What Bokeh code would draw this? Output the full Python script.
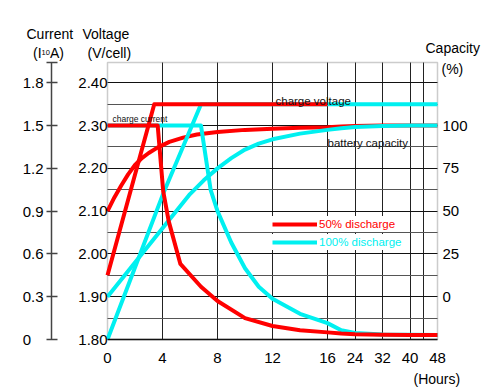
from bokeh.plotting import figure
from bokeh.models import (Range1d, LinearAxis, FixedTicker, Grid, Label, Legend,
                          LegendItem, NumeralTickFormatter, BoxAnnotation)
from bokeh.embed import file_html
from bokeh.resources import INLINE

# ---------------- data ----------------
x_tick_hours = [0, 4, 8, 12, 16, 24, 32, 40, 48]
x_tick_labels = ["0", "4", "8", "12", "16", "24", "32", "40", "48"]
x_grid_hours = [4, 8, 12, 16, 24, 32, 40, 44]
volt_ticks = [1.80, 1.90, 2.00, 2.10, 2.20, 2.30, 2.40]
volt_grid_major = [1.90, 2.00, 2.10, 2.20, 2.30, 2.40]
volt_grid_minor = [1.85, 1.95, 2.05, 2.15, 2.25, 2.35]
current_ticks = [0, 0.3, 0.6, 0.9, 1.2, 1.5, 1.8]
current_labels = ["0\u2007\u2008", "0.3", "0.6", "0.9", "1.2", "1.5", "1.8"]
capacity_ticks = [0, 25, 50, 75, 100]

# 50% discharge (red)
red_volt_h = [0, 3.4, 16]
red_volt_v = [1.95, 2.35, 2.35]
red_curr_h = [0, 3.65, 4.05, 4.45, 5.3, 6.8, 8, 10, 12, 14, 16, 20, 24, 32, 40, 48]
red_curr_i = [1.5, 1.5, 1.04, 0.83, 0.53, 0.37, 0.27, 0.15, 0.095, 0.065, 0.05,
              0.042, 0.037, 0.033, 0.032, 0.032]
red_cap_h = [0, 0.5, 1, 1.5, 2, 2.5, 3, 3.6, 4.5, 5.5, 6.5, 8, 10, 12, 14, 16, 20, 24, 32, 48]
red_cap_c = [50, 58, 65, 71.5, 77, 81, 84, 87, 90.5, 93, 94.8, 96.3, 97.5, 98.2, 98.7,
             99.1, 99.5, 99.8, 100, 100]

# 100% discharge (cyan)
cyan_volt_h = [0, 4.1, 6.8, 48]
cyan_volt_v = [1.80, 2.145, 2.35, 2.35]
cyan_curr_h = [0, 6.8, 7.5, 8, 9, 10, 11, 12, 14, 16, 20, 24, 32, 40, 48]
cyan_curr_i = [1.5, 1.5, 1.05, 0.9, 0.68, 0.5, 0.37, 0.285, 0.18, 0.115, 0.065,
               0.045, 0.035, 0.033, 0.032]
cyan_cap_h = [0, 2, 4, 6, 7, 8, 9, 10, 11, 12, 14, 16, 20, 24, 32, 40, 48]
cyan_cap_c = [0, 20, 40, 60, 68, 75, 81, 86, 89.5, 92, 95.3, 97.5, 98.5, 99.2, 99.7, 100, 100]

RED = "#ff0000"
CYAN = "#00f0f0"
FONT = "Liberation Sans"

W, H = 489, 387
V_BOT, V_TOP = 1.80, 2.4475
H_MAX = 24.0                      # axis position of 48 h

# plot box in page pixels
X0, X1 = 107.0, 437.0
Y0, Y1 = 339.0, 62.0
XS = (X1 - X0) / H_MAX
YS = (Y0 - Y1) / (V_TOP - V_BOT)


def pos(h):
    """Hour axis: 0-16 h linear, 16-48 h compressed four times."""
    return h if h <= 16 else 16 + (h - 16) / 4.0


def dx(px):
    return (px - X0) / XS


def dy(py):
    return V_BOT + (Y0 - py) / YS


def to_cur(v):
    return (v - V_BOT) * 3.0


def to_cap(v):
    return (v - 1.90) * 250.0


p = figure(width=W, height=H, x_range=Range1d(dx(0), dx(W)), y_range=Range1d(dy(H), dy(0)),
           output_backend="svg", toolbar_location=None,
           min_border_left=0, min_border_right=0, min_border_top=0, min_border_bottom=0)
p.background_fill_color = "white"
p.border_fill_color = "white"
p.outline_line_color = None

p.extra_y_ranges = {
    "cur": Range1d(to_cur(dy(H)), to_cur(dy(0))),
    "cap": Range1d(to_cap(dy(H)), to_cap(dy(0))),
}

# ---- bottom axis
xa = p.xaxis[0]
xa.fixed_location = V_BOT
xa.bounds = (0, H_MAX)
xa.ticker = FixedTicker(ticks=[pos(h) for h in x_tick_hours])
xa.major_label_overrides = {pos(h): lab for h, lab in zip(x_tick_hours, x_tick_labels)}
xa.axis_line_color = "#111111"
xa.axis_line_width = 1.5
xa.major_tick_line_color = None
xa.minor_tick_line_color = None
xa.major_tick_in = 0
xa.major_tick_out = 0
xa.major_label_standoff = 13
xa.major_label_text_font = FONT
xa.major_label_text_font_size = "15px"
xa.major_label_text_color = "black"

# ---- voltage axis
va = p.yaxis[0]
va.fixed_location = 0
va.bounds = (V_BOT, V_TOP)
va.ticker = FixedTicker(ticks=volt_ticks)
va.formatter = NumeralTickFormatter(format="0.00")
va.axis_line_color = None
va.major_tick_line_color = None
va.minor_tick_line_color = None
va.major_tick_in = 0
va.major_tick_out = 0
va.major_label_standoff = 0
va.major_label_text_font = FONT
va.major_label_text_font_size = "15px"
va.major_label_text_color = "black"

# ---- current axis
cur_top = to_cur(V_TOP)
overrides = {t: lab for t, lab in zip(current_ticks, current_labels)}
overrides[cur_top] = ""
ca = LinearAxis(y_range_name="cur", fixed_location=dx(51), bounds=(0, cur_top),
                ticker=FixedTicker(ticks=current_ticks + [cur_top]),
                major_label_overrides=overrides,
                axis_line_color="#444444", axis_line_width=1.5,
                major_tick_line_color="#444444", major_tick_line_width=1.5,
                major_tick_in=6, major_tick_out=5, minor_tick_line_color=None,
                major_label_standoff=3, major_label_text_font=FONT,
                major_label_text_font_size="15px", major_label_text_color="black")
p.add_layout(ca, "left")

# ---- capacity axis
cpa = LinearAxis(y_range_name="cap", fixed_location=H_MAX,
                 ticker=FixedTicker(ticks=capacity_ticks),
                 axis_line_color=None, major_tick_line_color=None, minor_tick_line_color=None,
                 major_tick_in=0, major_tick_out=0, major_label_standoff=5,
                 major_label_text_font=FONT, major_label_text_font_size="15px",
                 major_label_text_color="black")
p.add_layout(cpa, "right")

# ---- grids (limited to the plot box)
HAS_CB = "cross_bounds" in Grid.properties()


def setup_grid(g, ticks, color, cross):
    g.ticker = FixedTicker(ticks=ticks)
    g.grid_line_color = color
    g.grid_line_width = 1
    if HAS_CB:
        g.cross_bounds = cross


setup_grid(p.xgrid[0], [pos(h) for h in x_grid_hours], "#222222", (V_BOT, V_TOP))
setup_grid(p.ygrid[0], volt_grid_major, "#111111", (0, H_MAX))
g2 = Grid(dimension=1)
setup_grid(g2, volt_grid_minor, "#555555", (0, H_MAX))
p.add_layout(g2)

box = BoxAnnotation(left=0, right=H_MAX, bottom=V_BOT, top=V_TOP, fill_color=None,
                    line_color="#555555", line_width=1.5, level="underlay")
p.add_layout(box)

# ---- curves
LW = 4
r_rcap = p.line([pos(h) for h in red_cap_h], red_cap_c, y_range_name="cap",
                line_color=RED, line_width=LW, line_join="round")
r_ccap = p.line([pos(h) for h in cyan_cap_h], cyan_cap_c, y_range_name="cap",
                line_color=CYAN, line_width=LW, line_join="round")
r_cvolt = p.line([pos(h) for h in cyan_volt_h], cyan_volt_v,
                 line_color=CYAN, line_width=LW, line_join="round")
r_ccur = p.line([pos(h) for h in cyan_curr_h], cyan_curr_i, y_range_name="cur",
                line_color=CYAN, line_width=LW, line_join="round")
r_rvolt = p.line([pos(h) for h in red_volt_h], red_volt_v,
                 line_color=RED, line_width=LW, line_join="round")
r_rcur = p.line([pos(h) for h in red_curr_h], red_curr_i, y_range_name="cur",
                line_color=RED, line_width=LW, line_join="round")


# ---- legends (one per colour, so each label keeps its colour)
def make_legend(label, rend, color, loc):
    return Legend(items=[LegendItem(label=label, renderers=[rend])], location=loc,
                  orientation="vertical", padding=3, spacing=0, margin=0,
                  glyph_width=45, glyph_height=16, label_height=16, label_standoff=2,
                  label_text_font=FONT, label_text_font_size="11.5px",
                  label_text_color=color, background_fill_color="white",
                  background_fill_alpha=1.0, border_line_color=None)


p.add_layout(make_legend("50% discharge", r_rvolt, RED, (272, H - 232)))
p.add_layout(make_legend("100% discharge", r_cvolt, CYAN, (272, H - 250)))


# ---- texts
def add_text(txt, px, py, size, color="black"):
    p.add_layout(Label(x=dx(px), y=dy(py), text=txt, text_font=FONT,
                       text_font_size=size, text_color=color,
                       text_align="left", text_baseline="alphabetic"))


add_text("Current", 26, 33, "14px")
add_text("(I", 32.5, 52, "14px")
add_text("10", 41, 52, "7.5px")
add_text("A)", 49.5, 52, "14px")
add_text("Voltage", 82, 33, "14px")
add_text("(V/cell)", 87, 52, "14px")
add_text("Capacity", 425, 47, "14px")
add_text("(%)", 441, 68, "14px")
add_text("(Hours)", 413, 378, "14px")
add_text("charge current", 112, 118, "8.5px", "#111111")
add_text("charge voltage", 275, 100, "11.5px", "#111111")
add_text("battery capacity", 327, 142, "11.5px", "#111111")

open("out.html", "w").write(file_html(p, INLINE))
